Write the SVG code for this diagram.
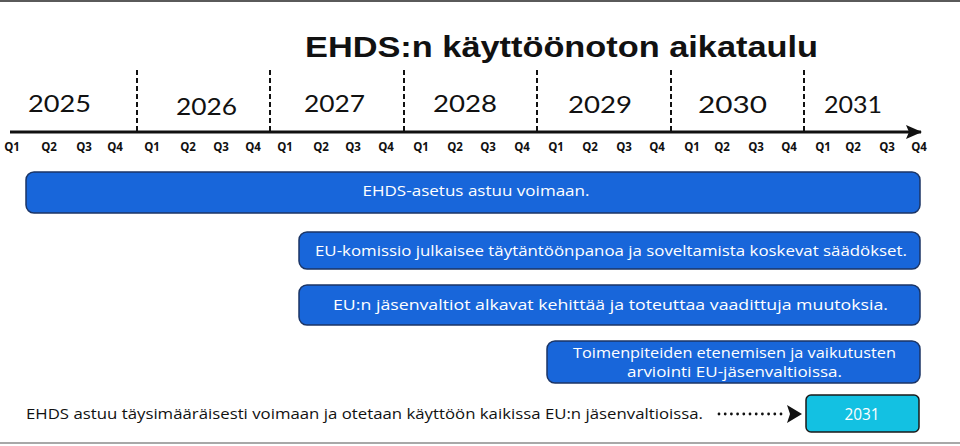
<svg xmlns="http://www.w3.org/2000/svg" width="960" height="446" viewBox="0 0 960 446">
<defs>
<style>
.title{font-family:"Liberation Sans",Arial,sans-serif;font-weight:700;font-size:30px;fill:#111;}
.year{font-family:"Lato","Open Sans",sans-serif;font-weight:400;font-size:24px;fill:#111;}
.q{font-family:"Open Sans","Liberation Sans",sans-serif;font-weight:700;font-size:11.5px;fill:#111;text-anchor:middle;}
.bar{fill:#1866DA;stroke:#1B3566;stroke-width:1.5;}
.cyan{fill:#13C1E2;stroke:#1a1a1a;stroke-width:1.5;}
.bt{font-family:"Open Sans","Liberation Sans",sans-serif;font-weight:500;font-size:14.5px;fill:#fff;text-anchor:middle;}
.big{font-size:16px;}
.plain{font-family:"Open Sans","Liberation Sans",sans-serif;font-size:14px;fill:#111;}
.div{stroke:#111;stroke-width:2;stroke-dasharray:5 3;}
</style>
<marker id="ah" viewBox="0 0 16 16" refX="15" refY="8" markerUnits="userSpaceOnUse" markerWidth="16" markerHeight="16" orient="auto">
<path d="M0,1 L16,8 L0,15 L3,8 Z" fill="#111"/>
</marker>
</defs>
<rect x="0" y="0" width="960" height="446" fill="#fff"/>
<rect x="0" y="0" width="960" height="2" fill="#5a5a5a"/>
<rect x="0" y="442" width="960" height="2" fill="#a8a8a8"/>

<text class="title" x="305" y="57" textLength="513" lengthAdjust="spacingAndGlyphs">EHDS:n käyttöönoton aikataulu</text>

<g id="axis">
<g class="years">
<text class="year" x="28" y="112" textLength="63" lengthAdjust="spacingAndGlyphs">2025</text>
<text class="year" x="176" y="115" textLength="61" lengthAdjust="spacingAndGlyphs">2026</text>
<text class="year" x="304" y="112" textLength="61" lengthAdjust="spacingAndGlyphs">2027</text>
<text class="year" x="433" y="112" textLength="64" lengthAdjust="spacingAndGlyphs">2028</text>
<text class="year" x="568" y="113" textLength="64" lengthAdjust="spacingAndGlyphs">2029</text>
<text class="year" x="698" y="113" textLength="69" lengthAdjust="spacingAndGlyphs">2030</text>
<text class="year" x="824" y="113" textLength="58" lengthAdjust="spacingAndGlyphs">2031</text>
</g>
<g class="dividers">
<line class="div" x1="137" y1="70" x2="137" y2="131"/>
<line class="div" x1="270" y1="70" x2="270" y2="131"/>
<line class="div" x1="404" y1="70" x2="404" y2="131"/>
<line class="div" x1="537" y1="70" x2="537" y2="131"/>
<line class="div" x1="671" y1="70" x2="671" y2="131"/>
<line class="div" x1="804" y1="70" x2="804" y2="131"/>
</g>
<g class="quarters">
<text class="q" x="12" y="151">Q1</text><text class="q" x="49" y="151">Q2</text><text class="q" x="84" y="151">Q3</text><text class="q" x="115" y="151">Q4</text>
<text class="q" x="152" y="151">Q1</text><text class="q" x="188" y="151">Q2</text><text class="q" x="221" y="151">Q3</text><text class="q" x="253" y="151">Q4</text>
<text class="q" x="285" y="151">Q1</text><text class="q" x="321" y="151">Q2</text><text class="q" x="353" y="151">Q3</text><text class="q" x="386" y="151">Q4</text>
<text class="q" x="421" y="151">Q1</text><text class="q" x="455" y="151">Q2</text><text class="q" x="488" y="151">Q3</text><text class="q" x="522" y="151">Q4</text>
<text class="q" x="556" y="151">Q1</text><text class="q" x="590" y="151">Q2</text><text class="q" x="624" y="151">Q3</text><text class="q" x="657" y="151">Q4</text>
<text class="q" x="692" y="151">Q1</text><text class="q" x="722" y="151">Q2</text><text class="q" x="756" y="151">Q3</text><text class="q" x="789" y="151">Q4</text>
<text class="q" x="823" y="151">Q1</text><text class="q" x="853" y="151">Q2</text><text class="q" x="887" y="151">Q3</text><text class="q" x="919" y="151">Q4</text>
</g>
</g>

<g id="connectors">
<line x1="10" y1="132" x2="921" y2="132" stroke="#111" stroke-width="3" marker-end="url(#ah)"/>
<line x1="719" y1="414" x2="785" y2="414" stroke="#111" stroke-width="2.8" stroke-linecap="round" stroke-dasharray="0 6.2"/>
<path d="M787,405 L802,414 L787,423 L790,414 Z" fill="#111"/>
</g>

<g id="node-asetus">
<rect class="bar" x="26" y="172" width="894" height="41" rx="8"/>
<text class="bt" x="476" y="196" textLength="227" lengthAdjust="spacingAndGlyphs">EHDS-asetus astuu voimaan.</text>
</g>
<g id="node-komissio">
<rect class="bar" x="299" y="232" width="621" height="37" rx="8"/>
<text class="bt" x="611" y="256" textLength="592" lengthAdjust="spacingAndGlyphs">EU-komissio julkaisee täytäntöönpanoa ja soveltamista koskevat säädökset.</text>
</g>
<g id="node-jasenvaltiot">
<rect class="bar" x="299" y="285" width="621" height="40" rx="8"/>
<text class="bt" x="610.5" y="310" textLength="555" lengthAdjust="spacingAndGlyphs">EU:n jäsenvaltiot alkavat kehittää ja toteuttaa vaadittuja muutoksia.</text>
</g>
<g id="node-arviointi">
<rect class="bar" x="547" y="341" width="373" height="42" rx="8"/>
<text class="bt" x="734.5" y="358" textLength="323" lengthAdjust="spacingAndGlyphs">Toimenpiteiden etenemisen ja vaikutusten</text>
<text class="bt" x="734.5" y="377" textLength="215" lengthAdjust="spacingAndGlyphs">arviointi EU-jäsenvaltioissa.</text>
</g>
<g id="node-full">
<text class="plain" x="26" y="419" textLength="677" lengthAdjust="spacingAndGlyphs">EHDS astuu täysimääräisesti voimaan ja otetaan käyttöön kaikissa EU:n jäsenvaltioissa.</text>
</g>
<g id="node-2031">
<rect class="cyan" x="806" y="395" width="113" height="37" rx="5"/>
<text class="bt big" x="862" y="420" textLength="35" lengthAdjust="spacingAndGlyphs">2031</text>
</g>
</svg>
